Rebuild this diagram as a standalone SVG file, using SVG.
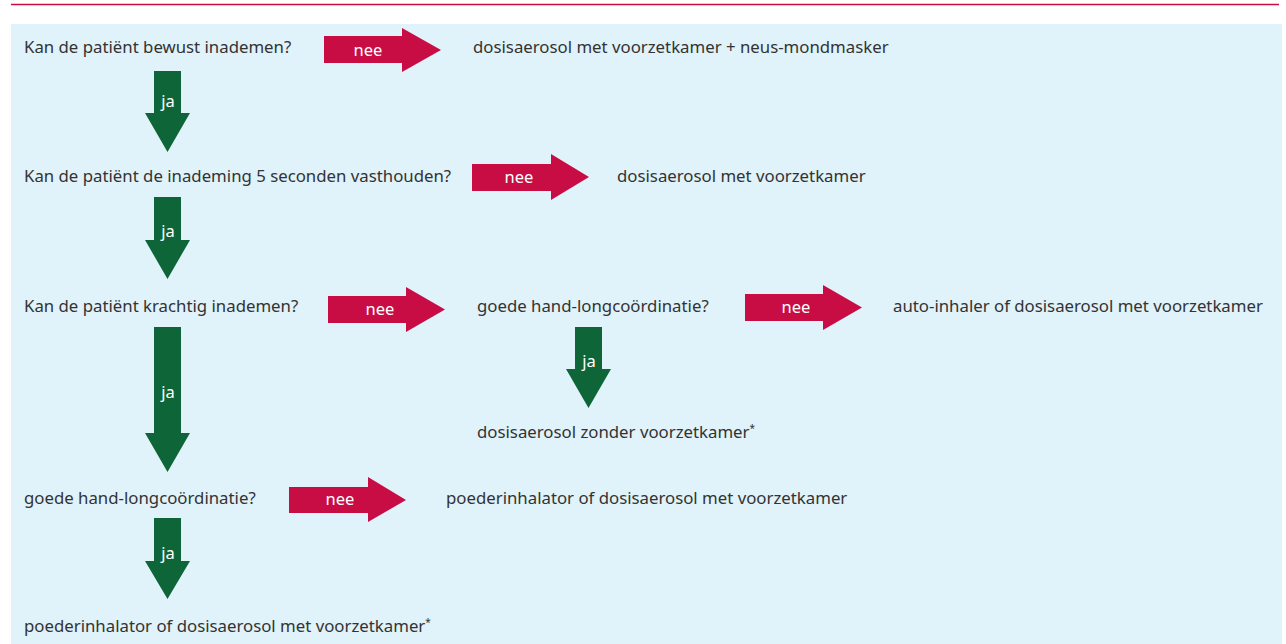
<svg xmlns="http://www.w3.org/2000/svg" width="1286" height="644" viewBox="0 0 1286 644">
<style>
.t{font-family:"Noto Sans","Open Sans","Liberation Sans",sans-serif;font-size:16.8px;fill:#333333}
.no{fill:#c80d45}
.yes{fill:#0e6638}
.lbl{font-family:"Noto Sans","Open Sans","Liberation Sans",sans-serif;font-size:16.5px;fill:#ffffff;text-anchor:middle}
.ast{font-size:10px}
</style>
<rect x="0" y="0" width="1286" height="644" fill="#ffffff"/>
<line x1="11" y1="4.5" x2="1279" y2="4.5" stroke="#c80d45" stroke-width="1.5"/>
<rect x="11" y="24" width="1271" height="620" fill="#e0f2fa"/>
<g id="q1"><text class="t" x="24" y="53">Kan de patiënt bewust inademen?</text></g>
<g id="r1"><text class="t" x="473" y="53">dosisaerosol met voorzetkamer + neus-mondmasker</text></g>
<g id="q2"><text class="t" x="24" y="182">Kan de patiënt de inademing 5 seconden vasthouden?</text></g>
<g id="r2"><text class="t" x="617" y="182">dosisaerosol met voorzetkamer</text></g>
<g id="q3"><text class="t" x="24" y="312">Kan de patiënt krachtig inademen?</text></g>
<g id="q3b"><text class="t" x="477" y="312">goede hand-longcoördinatie?</text></g>
<g id="r3b"><text class="t" x="893" y="312">auto-inhaler of dosisaerosol met voorzetkamer</text></g>
<g id="r3c"><text class="t" x="477" y="438">dosisaerosol zonder voorzetkamer<tspan class="ast" dy="-6">*</tspan></text></g>
<g id="q4"><text class="t" x="24" y="504">goede hand-longcoördinatie?</text></g>
<g id="r4"><text class="t" x="446" y="504">poederinhalator of dosisaerosol met voorzetkamer</text></g>
<g id="r5"><text class="t" x="24" y="632">poederinhalator of dosisaerosol met voorzetkamer<tspan class="ast" dy="-6">*</tspan></text></g>
<g id="connectors">
<polygon class="no" points="324,36 402,36 402,28 441,50 402,72 402,63 324,63"/>
<text class="lbl" x="368" y="56">nee</text>
<polygon class="no" points="472,164 551,164 551,154 589,177 551,200 551,191 472,191"/>
<text class="lbl" x="519" y="183">nee</text>
<polygon class="no" points="328,296 406,296 406,287 445,309.5 406,332 406,323 328,323"/>
<text class="lbl" x="380" y="315">nee</text>
<polygon class="no" points="745,294 823,294 823,285 862,307.5 823,330 823,321 745,321"/>
<text class="lbl" x="796" y="313">nee</text>
<polygon class="no" points="289,487 368,487 368,477 406,500 368,522 368,513 289,513"/>
<text class="lbl" x="340" y="505">nee</text>
<polygon class="yes" points="154,71 181,71 181,113 190,113 167.5,152 145,113 154,113"/>
<text class="lbl" x="168" y="107">ja</text>
<polygon class="yes" points="154,197 181,197 181,240 190,240 167.5,279 145,240 154,240"/>
<text class="lbl" x="168" y="237">ja</text>
<polygon class="yes" points="154,327 181,327 181,433 190,433 167.5,472 145,433 154,433"/>
<text class="lbl" x="168" y="398">ja</text>
<polygon class="yes" points="575,327 602,327 602,369 611,369 588.5,408 566,369 575,369"/>
<text class="lbl" x="589" y="367">ja</text>
<polygon class="yes" points="154,518 181,518 181,561 190,561 167.5,599 145,561 154,561"/>
<text class="lbl" x="168" y="559">ja</text>
</g>
</svg>
